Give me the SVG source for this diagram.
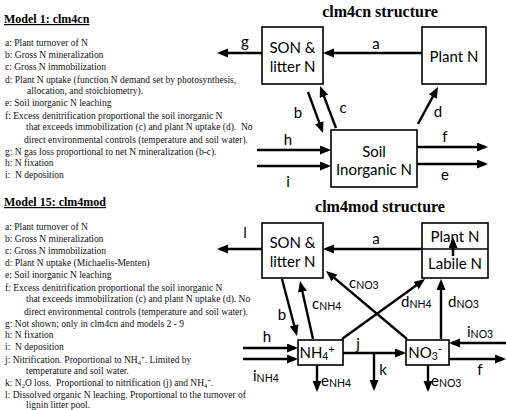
<svg xmlns="http://www.w3.org/2000/svg" width="506" height="410" viewBox="0 0 506 410">
<defs>
<marker id="ah" markerUnits="userSpaceOnUse" markerWidth="12" markerHeight="10" refX="8" refY="4.5" orient="auto">
<path d="M0,0 L11,4.5 L0,9 z" fill="#000"/>
</marker>
<style>
.box{fill:#fff;stroke:#000;stroke-width:1.6}
.ar{stroke:#000;stroke-width:2.4;fill:none;marker-end:url(#ah)}
.nt{font-family:Lato,"Open Sans",sans-serif;font-size:15px;fill:#000;text-anchor:middle}
.lb{font-family:Lato,"Open Sans",sans-serif;font-size:15px;fill:#000}
.sb{font-size:10.5px}
.tt{font-family:"Liberation Serif",serif;font-weight:bold;font-size:16px;text-anchor:middle;fill:#000}
.hd{font-family:"Liberation Serif",serif;font-weight:bold;font-size:12px;text-decoration:underline;fill:#000}
.tx{font-family:"Liberation Serif",serif;font-size:9.5px;fill:#111;white-space:pre}
</style>
</defs>

<g id="legend1">
<text class="hd" x="4" y="23">Model 1: clm4cn</text>
<text class="tx" x="5" y="46">a: Plant turnover of N</text>
<text class="tx" x="5" y="58">b: Gross N mineralization</text>
<text class="tx" x="5" y="70">c: Gross N immobilization</text>
<text class="tx" x="5" y="83">d: Plant N uptake (function N demand set by photosynthesis,</text>
<text class="tx" x="27" y="94">allocation, and stoichiometry).</text>
<text class="tx" x="5" y="106">e: Soil inorganic N leaching</text>
<text class="tx" x="5" y="119">f: Excess denitrification proportional the soil inorganic N</text>
<text class="tx" x="26" y="130">that exceeds immobilization (c) and plant N uptake (d).  No</text>
<text class="tx" x="24" y="143">direct environmental controls (temperature and soil water).</text>
<text class="tx" x="5" y="155">g: N gas loss proportional to net N mineralization (b-c).</text>
<text class="tx" x="5" y="166">h: N fixation</text>
<text class="tx" x="5" y="178">i:  N deposition</text>
</g>

<g id="legend15">
<text class="hd" x="4" y="206">Model 15: clm4mod</text>
<text class="tx" x="5" y="230">a: Plant turnover of N</text>
<text class="tx" x="5" y="242">b: Gross N mineralization</text>
<text class="tx" x="5" y="254">c: Gross N immobilization</text>
<text class="tx" x="5" y="266">d: Plant N uptake (Michaelis-Menten)</text>
<text class="tx" x="5" y="278">e: Soil inorganic N leaching</text>
<text class="tx" x="5" y="291">f: Excess denitrification proportional the soil inorganic N</text>
<text class="tx" x="26" y="302">that exceeds immobilization (c) and plant N uptake (d). No</text>
<text class="tx" x="24" y="315">direct environmental controls (temperature and soil water).</text>
<text class="tx" x="5" y="327">g: Not shown; only in clm4cn and models 2 - 9</text>
<text class="tx" x="5" y="338">h: N fixation</text>
<text class="tx" x="5" y="350">i:  N deposition</text>
<text class="tx" x="5" y="363">j: Nitrification. Proportional to NH<tspan font-size="6.5" dy="1.5">4</tspan><tspan font-size="6.5" dy="-4.5">+</tspan><tspan dy="3">. Limited by</tspan></text>
<text class="tx" x="26" y="374">temperature and soil water.</text>
<text class="tx" x="5" y="386">k: N<tspan font-size="6.5" dy="1.5">2</tspan><tspan dy="-1.5">O loss.  Proportional to nitrification (j) and NH</tspan><tspan font-size="6.5" dy="1.5">4</tspan><tspan font-size="6.5" dy="-4.5">+</tspan><tspan dy="3">.</tspan></text>
<text class="tx" x="5" y="398">l: Dissolved organic N leaching. Proportional to the turnover of</text>
<text class="tx" x="26" y="408">lignin litter pool.</text>
</g>

<text class="tt" x="380" y="17">clm4cn structure</text>
<text class="tt" x="380" y="212">clm4mod structure</text>

<g id="cn-son">
<rect class="box" x="262" y="27" width="61" height="57"/>
<text class="nt" x="292.5" y="53">SON &amp;</text>
<text class="nt" x="292.5" y="72">litter N</text>
</g>
<g id="cn-plant">
<rect class="box" x="422" y="27" width="64" height="57"/>
<text class="nt" x="454" y="62">Plant N</text>
</g>
<g id="cn-soil">
<rect class="box" x="331" y="130" width="86" height="57"/>
<text class="nt" x="374" y="157">Soil</text>
<text class="nt" x="374" y="175">Inorganic N</text>
</g>

<g id="mod-son">
<rect class="box" x="262" y="223" width="61" height="55"/>
<text class="nt" x="292.5" y="248">SON &amp;</text>
<text class="nt" x="292.5" y="267">litter N</text>
</g>
<g id="mod-plant">
<rect class="box" x="422" y="223" width="66" height="55"/>
<line x1="422" y1="249" x2="488" y2="249" stroke="#000" stroke-width="1.6"/>
<text class="nt" x="455" y="242">Plant N</text>
<text class="nt" x="455" y="269">Labile N</text>
</g>
<g id="mod-nh4">
<rect class="box" x="298" y="340" width="45" height="25"/>
<text class="nt" x="317" y="358">NH<tspan class="sb" dy="2">4</tspan><tspan class="sb" dy="-7">+</tspan></text>
</g>
<g id="mod-no3">
<rect class="box" x="406" y="340" width="43" height="25"/>
<text class="nt" x="425" y="358">NO<tspan class="sb" dy="2">3</tspan><tspan class="sb" dy="-7">-</tspan></text>
</g>

<g id="connectors">
<line class="ar" x1="422" y1="53" x2="326" y2="53"/>
<line class="ar" x1="262" y1="53" x2="220" y2="53"/>
<line class="ar" x1="308" y1="92" x2="322" y2="130.2"/>
<line class="ar" x1="336" y1="128" x2="321.1" y2="88.8"/>
<line class="ar" x1="418" y1="124" x2="436.6" y2="89.6"/>
<line class="ar" x1="257" y1="150" x2="328" y2="150"/>
<line class="ar" x1="257" y1="166" x2="328" y2="166"/>
<line class="ar" x1="417" y1="147" x2="485" y2="147"/>
<line class="ar" x1="417" y1="164" x2="485" y2="164"/>

<line class="ar" x1="422" y1="249" x2="326" y2="249"/>
<line class="ar" x1="262" y1="249" x2="220" y2="249"/>
<line class="ar" x1="453" y1="256" x2="453" y2="240"/>
<line class="ar" x1="282" y1="279" x2="296.2" y2="333.1"/>
<line class="ar" x1="313" y1="339" x2="300.7" y2="283.9"/>
<line class="ar" x1="407" y1="339" x2="328.3" y2="272.9"/>
<line class="ar" x1="342" y1="339" x2="422.6" y2="280.8"/>
<line class="ar" x1="441" y1="339" x2="441" y2="282"/>
<line class="ar" x1="243" y1="348" x2="295" y2="348"/>
<line class="ar" x1="243" y1="359" x2="295" y2="359"/>
<line class="ar" x1="343" y1="353" x2="403" y2="353"/>
<line class="ar" x1="374" y1="353" x2="374" y2="388"/>
<line class="ar" x1="317" y1="365" x2="317" y2="389"/>
<line class="ar" x1="428" y1="365" x2="428" y2="389"/>
<line class="ar" x1="506" y1="343" x2="452" y2="343"/>
<line class="ar" x1="449" y1="359" x2="503" y2="359"/>
</g>

<g id="labels">
<text class="lb" x="376" y="49" text-anchor="middle">a</text>
<text class="lb" x="245" y="47" text-anchor="middle">g</text>
<text class="lb" x="298" y="118" text-anchor="middle">b</text>
<text class="lb" x="343" y="113" text-anchor="middle">c</text>
<text class="lb" x="438" y="117" text-anchor="middle">d</text>
<text class="lb" x="288" y="145" text-anchor="middle">h</text>
<text class="lb" x="288" y="187" text-anchor="middle">i</text>
<text class="lb" x="445" y="142" text-anchor="middle">f</text>
<text class="lb" x="445" y="180" text-anchor="middle">e</text>

<text class="lb" x="376" y="244" text-anchor="middle">a</text>
<text class="lb" x="245" y="238" text-anchor="middle">l</text>
<text class="lb" x="282" y="320" text-anchor="middle">b</text>
<text class="lb" x="312" y="309">c<tspan class="sb" dy="1">NH4</tspan></text>
<text class="lb" x="349" y="288">c<tspan class="sb" dy="1">NO3</tspan></text>
<text class="lb" x="401" y="307">d<tspan class="sb" dy="1">NH4</tspan></text>
<text class="lb" x="448" y="307">d<tspan class="sb" dy="1">NO3</tspan></text>
<text class="lb" x="267" y="342" text-anchor="middle">h</text>
<text class="lb" x="253" y="381">i<tspan class="sb" dy="1">NH4</tspan></text>
<text class="lb" x="358" y="349" text-anchor="middle">j</text>
<text class="lb" x="383" y="375" text-anchor="middle">k</text>
<text class="lb" x="321" y="386">e<tspan class="sb" dy="1">NH4</tspan></text>
<text class="lb" x="431" y="386">e<tspan class="sb" dy="1">NO3</tspan></text>
<text class="lb" x="467" y="337">i<tspan class="sb" dy="1">NO3</tspan></text>
<text class="lb" x="480" y="375" text-anchor="middle">f</text>
</g>
</svg>
